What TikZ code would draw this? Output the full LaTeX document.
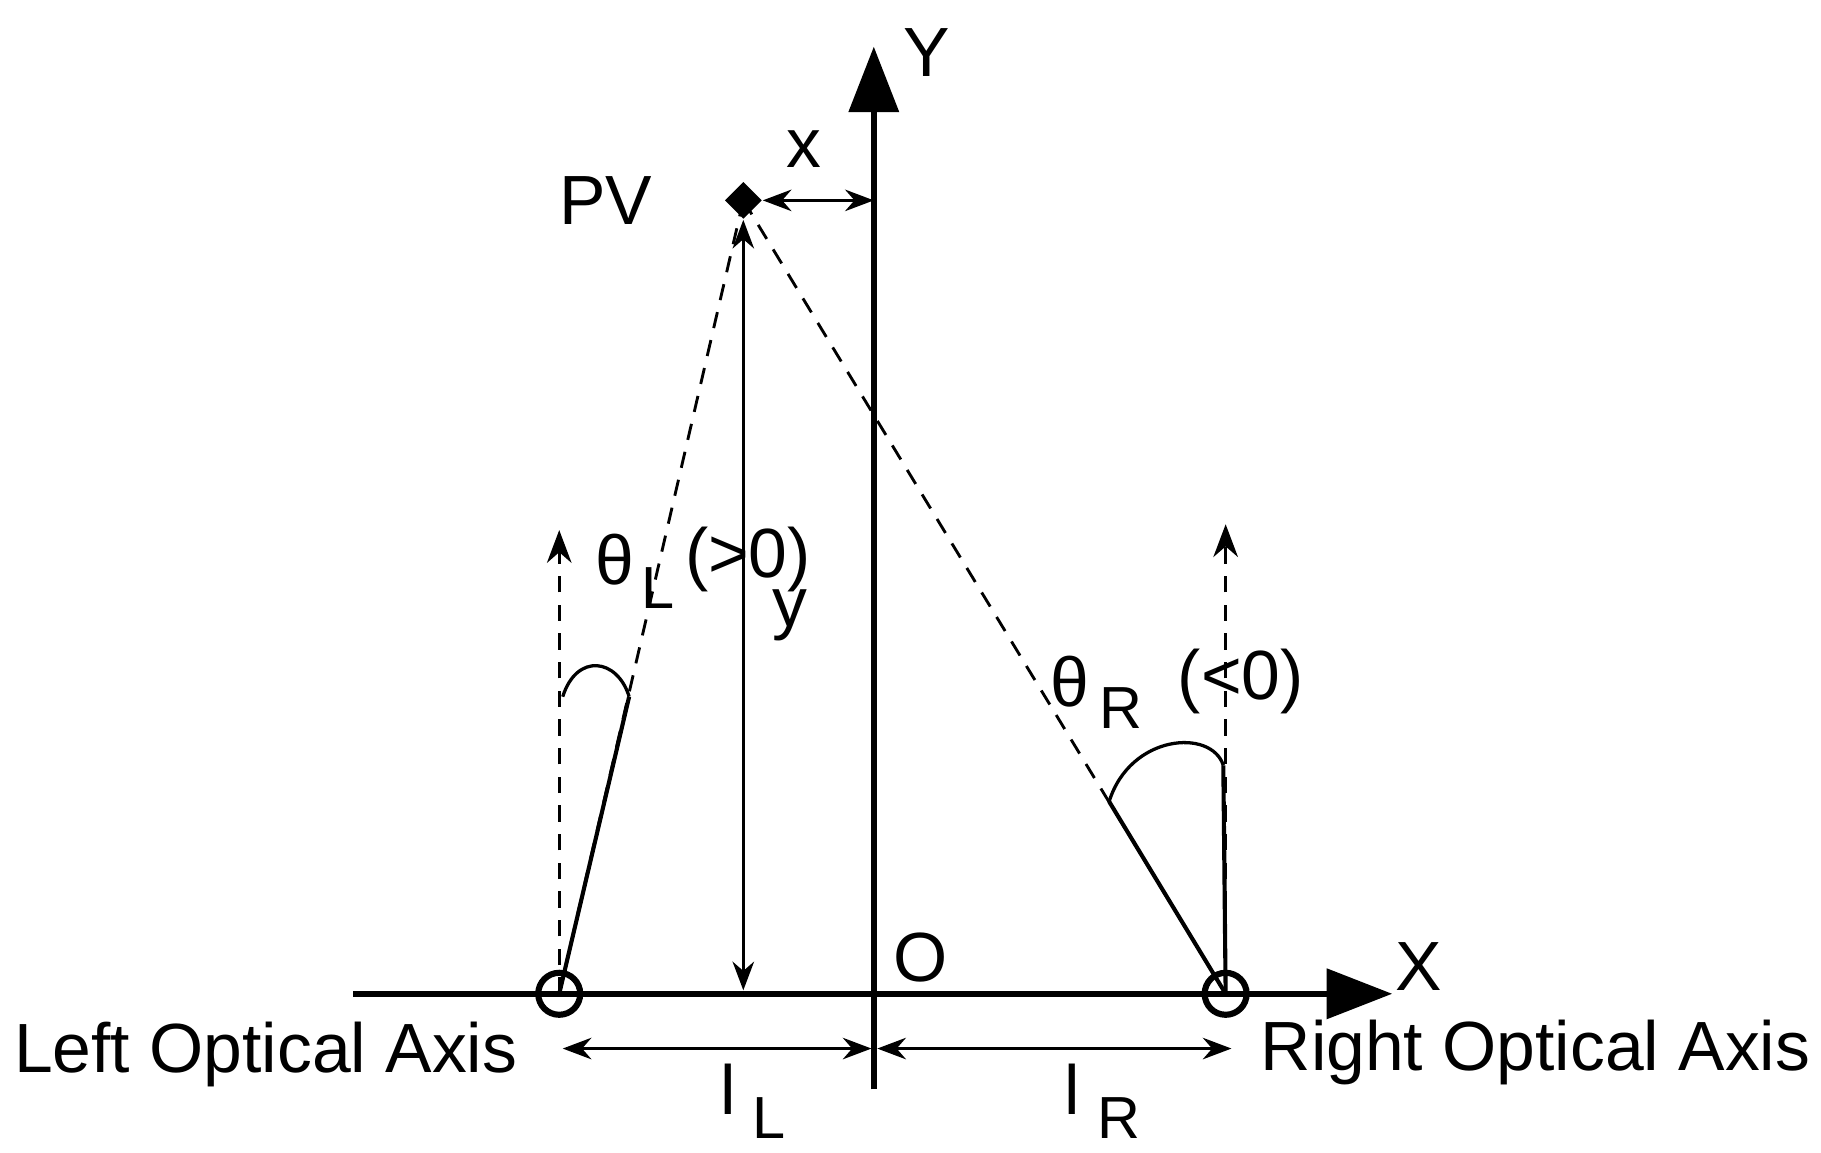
\documentclass[tikz,border=0pt]{standalone}
\usepackage{fontspec}
\setmainfont{Liberation Sans}
\usetikzlibrary{arrows.meta,shapes.geometric}
\begin{document}
\begin{tikzpicture}[x=0.01cm,y=-0.01cm,
  lbl/.style={font=\fontsize{14.5}{16}\selectfont,inner sep=0},
  big/.style={font=\fontsize{17}{19}\selectfont,inner sep=0},
  ax/.style={line width=1.6pt,-{Triangle[length=16pt,width=12pt]}},
  dim/.style={line width=0.7pt,{Stealth[length=7pt]}-{Stealth[length=7pt]}},
  dsh/.style={dashed,line width=0.7pt,dash pattern=on 4pt off 3pt}]
\useasboundingbox (0,0) rectangle (1563,989);
\coordinate (xs) at (303,853); \coordinate (xe) at (1195,853);
\coordinate (ys) at (750,935); \coordinate (ye) at (750,40);
\draw[ax] (xs) -- (xe);
\draw[ax] (ys) -- (ye);
\node[big] (X) at (1218,830) {X};
\node[big] (Y) at (795,45) {Y};
\node[big] (O) at (790,822) {O};
\node[diamond,fill=black,minimum size=0.32cm,inner sep=0] (pv) at (638,172) {};
\node[big] (pvl) at (520,172) {PV};
\coordinate (axy) at (750,172);
\draw[dim] (pv.east) -- (axy);
\node[big] (xl) at (690,128) {x};
\coordinate (yb) at (638,850);
\draw[dim] (pv.south) -- (yb);
\node[big] (yl) at (678,528) {y};
\node[circle,draw,line width=1.5pt,minimum size=0.36cm,inner sep=0] (cl) at (480,853) {};
\node[circle,draw,line width=1.5pt,minimum size=0.36cm,inner sep=0] (cr) at (1052,853) {};
\coordinate (lt) at (480,455); \coordinate (rt) at (1052,450);
\draw[dsh,-{Stealth[length=8pt]}] (cl.center) -- (lt);
\draw[dsh,-{Stealth[length=8pt]}] (cr.center) -- (rt);
\draw[dsh] (pv.center) -- (cl.center);
\draw[dsh] (pv.center) -- (cr.center);
\coordinate (la) at (540,598); \coordinate (lv) at (483,598);
\draw[line width=1pt] (cl.center) -- (la);
\draw[line width=0.8pt] (lv) .. controls (495,560) and (530,565) .. (la);
\coordinate (ra) at (952,688); \coordinate (rv) at (1050,657);
\draw[line width=1pt] (cr.center) -- (ra);
\draw[line width=1pt] (cr.center) -- (rv);
\draw[line width=0.8pt] (ra) .. controls (970,630) and (1040,625) .. (rv);
\node[big] (thl) at (528,480) {θ};
\node[lbl] (thls) at (565,505) {L};
\node[big] (thlc) at (642,480) {(>0)};
\node[big] (thr) at (918,585) {θ};
\node[lbl] (thrs) at (962,608) {R};
\node[big] (thrc) at (1065,585) {(<0)};
\node[big] (lo) at (228,905) {Left Optical Axis};
\node[big] (ro) at (1318,903) {Right Optical Axis};
\coordinate (d1) at (483,900); \coordinate (d2) at (748,900);
\coordinate (d3) at (753,900); \coordinate (d4) at (1057,900);
\draw[dim] (d1) -- (d2);
\draw[dim] (d3) -- (d4);
\node[big] (ll) at (625,935) {l};
\node[lbl] (lls) at (660,960) {L};
\node[big] (lr) at (920,935) {l};
\node[lbl] (lrs) at (960,960) {R};
\end{tikzpicture}
\end{document}
